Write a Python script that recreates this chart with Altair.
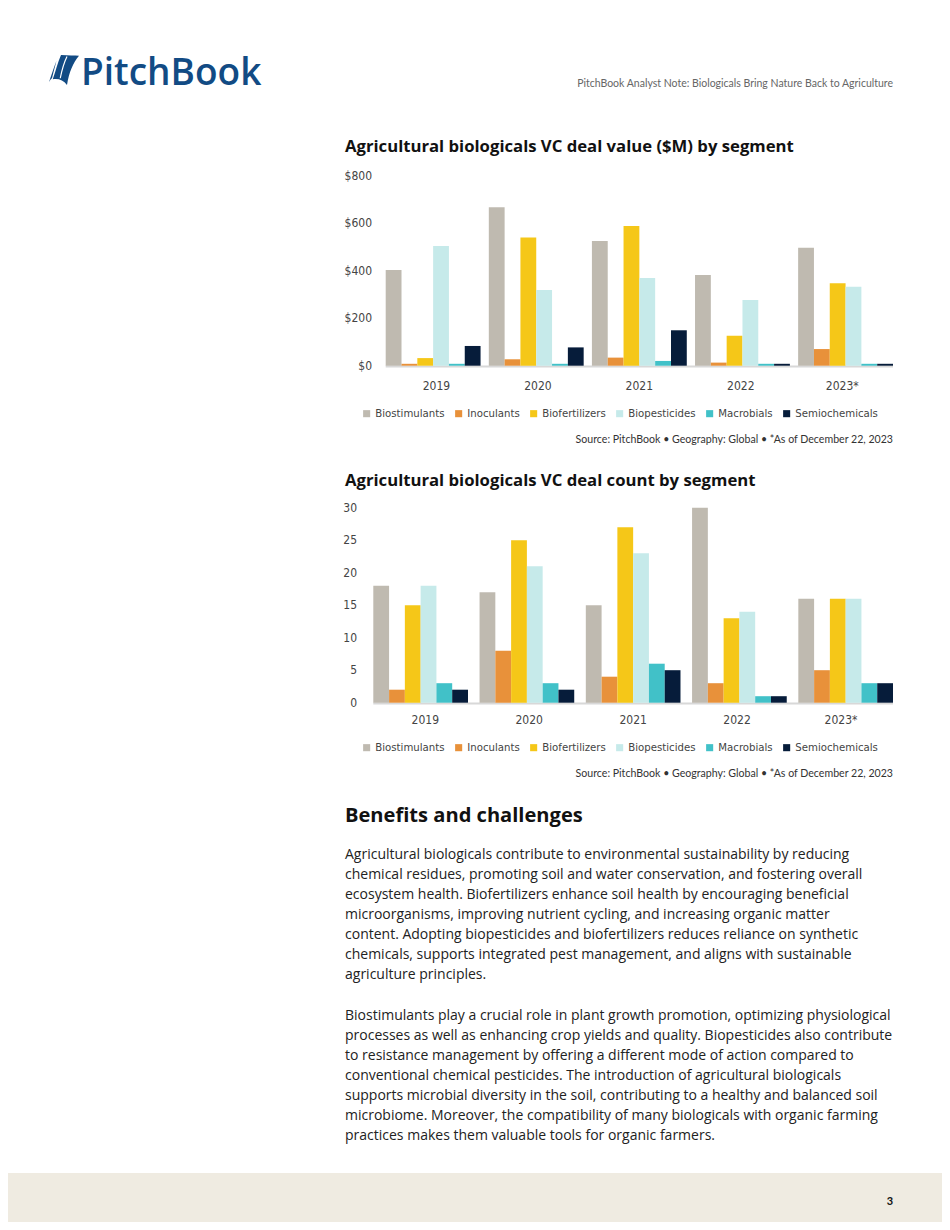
import altair as alt
import pandas as pd

# ---------------- data ----------------
years = ["2019", "2020", "2021", "2022", "2023"]
year_labels = ["2019", "2020", "2021", "2022", "2023*"]
segments = ["Biostimulants", "Inoculants", "Biofertilizers", "Biopesticides", "Macrobials", "Semiochemicals"]
colors = ["#bfbab0", "#e8913a", "#f5c718", "#c6eaea", "#41c1c8", "#061c3a"]

# deal value ($M)
value_biostimulants = [403, 666, 524, 381, 496]
value_inoculants = [8, 27, 34, 13, 70]
value_biofertilizers = [32, 539, 588, 126, 347]
value_biopesticides = [503, 318, 369, 276, 332]
value_macrobials = [8, 8, 20, 8, 8]
value_semiochemicals = [83, 77, 149, 8, 8]

# deal count
count_biostimulants = [18, 17, 15, 30, 16]
count_inoculants = [2, 8, 4, 3, 5]
count_biofertilizers = [15, 25, 27, 13, 16]
count_biopesticides = [18, 21, 23, 14, 16]
count_macrobials = [3, 3, 6, 1, 3]
count_semiochemicals = [2, 2, 5, 1, 3]

value_ticks = [0, 200, 400, 600, 800]
value_tick_labels = ["$0", "$200", "$400", "$600", "$800"]
count_ticks = [0, 5, 10, 15, 20, 25, 30]
count_tick_labels = ["0", "5", "10", "15", "20", "25", "30"]

title_value = "Agricultural biologicals VC deal value ($M) by segment"
title_count = "Agricultural biologicals VC deal count by segment"
source_text = "Source: PitchBook  \u2022  Geography: Global  \u2022  *As of December 22, 2023"
header_text = "PitchBook Analyst Note: Biologicals Bring Nature Back to Agriculture"
section_title = "Benefits and challenges"
paragraph_1 = [
    "Agricultural biologicals contribute to environmental sustainability by reducing",
    "chemical residues, promoting soil and water conservation, and fostering overall",
    "ecosystem health. Biofertilizers enhance soil health by encouraging beneficial",
    "microorganisms, improving nutrient cycling, and increasing organic matter",
    "content. Adopting biopesticides and biofertilizers reduces reliance on synthetic",
    "chemicals, supports integrated pest management, and aligns with sustainable",
    "agriculture principles.",
]
paragraph_2 = [
    "Biostimulants play a crucial role in plant growth promotion, optimizing physiological",
    "processes as well as enhancing crop yields and quality. Biopesticides also contribute",
    "to resistance management by offering a different mode of action compared to",
    "conventional chemical pesticides. The introduction of agricultural biologicals",
    "supports microbial diversity in the soil, contributing to a healthy and balanced soil",
    "microbiome. Moreover, the compatibility of many biologicals with organic farming",
    "practices makes them valuable tools for organic farmers.",
]

# ---------------- tables ----------------
value_series = [value_biostimulants, value_inoculants, value_biofertilizers,
                value_biopesticides, value_macrobials, value_semiochemicals]
count_series = [count_biostimulants, count_inoculants, count_biofertilizers,
                count_biopesticides, count_macrobials, count_semiochemicals]

def long_table(series):
    rows = []
    for seg, vals in zip(segments, series):
        for yr, v in zip(years, vals):
            rows.append({"year": yr, "segment": seg, "v": v})
    return pd.DataFrame(rows)

df_value = long_table(value_series)
df_count = long_table(count_series)
df_years = pd.DataFrame({"year": years, "label": year_labels})
df_vticks = pd.DataFrame({"t": value_ticks, "label": value_tick_labels})
df_cticks = pd.DataFrame({"t": count_ticks, "label": count_tick_labels})
dummy = pd.DataFrame({"k": [0]})

NARROW = "Liberation Sans Narrow, DejaVu Sans Condensed, Roboto, sans-serif"
SANS = "Lato, Open Sans, sans-serif"
OPEN = "Open Sans, Lato, sans-serif"

# ---------------- scales ----------------
x1 = alt.Scale(domain=years, range=[377.7, 885], paddingInner=0.08, paddingOuter=0)
y1 = alt.Scale(domain=[0, 800], range=[357.7, 167.5], nice=False)
x2 = alt.Scale(domain=years, range=[365.3, 885], paddingInner=0.109, paddingOuter=0)
y2 = alt.Scale(domain=[0, 30], range=[694.7, 499.7], nice=False)
color_scale = alt.Scale(domain=segments, range=colors)


def legend(ly):
    return alt.Legend(orient="none", legendX=353, legendY=ly, direction="horizontal",
                      columns=6, title=None, symbolType="square", symbolSize=50,
                      symbolStrokeWidth=0, labelFont=NARROW, labelFontSize=11.3,
                      labelColor="#444444", columnPadding=8, labelOffset=3,
                      padding=0, symbolOffset=0)


def bars(df, xs, ys, ly):
    return alt.Chart(df).mark_bar().encode(
        x=alt.X("year:N", scale=xs, axis=None),
        xOffset=alt.XOffset("segment:N", scale=alt.Scale(domain=segments, paddingInner=0, paddingOuter=0)),
        y=alt.Y("v:Q", scale=ys, axis=None),
        color=alt.Color("segment:N", scale=color_scale, legend=legend(ly)),
    )


def xlabels(xs, yv):
    return alt.Chart(df_years).mark_text(font=NARROW, fontSize=12, color="#444444",
                                         baseline="middle", align="center").encode(
        x=alt.X("year:N", scale=xs, axis=None), y=alt.value(yv), text="label:N")


def ylabels(df, ys, xv):
    return alt.Chart(df).mark_text(font=NARROW, fontSize=12, color="#444444",
                                   baseline="middle", align="right").encode(
        y=alt.Y("t:Q", scale=ys, axis=None), x=alt.value(xv), text="label:N")


def baseline_rule(xa, xb, yv):
    return alt.Chart(dummy).mark_rule(color="#d8d8d8", strokeWidth=2).encode(
        x=alt.value(xa), x2=alt.value(xb), y=alt.value(yv))


def txt(text, x, y, size, weight="normal", color="#222222", font=SANS,
        align="left", baseline="middle", line_height=None):
    kw = dict(font=font, fontSize=size, fontWeight=weight, color=color,
              align=align, baseline=baseline)
    if line_height is not None:
        kw["lineHeight"] = line_height
    return alt.Chart(dummy).mark_text(**kw).encode(
        x=alt.value(x), y=alt.value(y), text=alt.value(text))


# ---------------- decorations ----------------
footer = alt.Chart(dummy).mark_rect(color="#efebe1").encode(
    x=alt.value(0), x2=alt.value(934), y=alt.value(1165), y2=alt.value(1214))

sail_path = ("M -0.2,-1 C 0.3,-0.95 0.7,-0.98 1,-0.95 C 0.6,-0.45 0.35,0.1 0.2,1 "
             "C -0.05,0.65 -0.4,0.55 -0.75,0.62 C -0.55,0.05 -0.42,-0.5 -0.2,-1 Z "
             "M -0.5,-0.62 C -0.66,-0.2 -0.82,0.25 -1,0.8 C -0.92,0.66 -0.86,0.6 -0.8,0.55 "
             "C -0.68,0.05 -0.58,-0.3 -0.5,-0.62 Z")
sail_lines = "M 0.2,-0.9 C -0.02,-0.45 -0.15,0.05 -0.25,0.55"
logo_icon = alt.Chart(dummy).mark_point(shape=sail_path, filled=True, size=900,
                                        color="#124b84", opacity=1).encode(
    x=alt.value(56), y=alt.value(62))
logo_lines = alt.Chart(dummy).mark_point(shape=sail_lines, filled=False, size=900,
                                         color="white", strokeWidth=1.2, opacity=1).encode(
    x=alt.value(56), y=alt.value(62))
logo_text = txt("PitchBook", 73, 77, 37, weight=600, color="#124b84",
                font=OPEN, baseline="alphabetic")

layers = [
    footer,
    logo_icon, logo_lines, logo_text,
    txt(header_text, 885, 76, 10.5, color="#666666", align="right"),
    # chart 1
    txt(title_value, 337, 139, 16.7, weight="bold", color="#111111", font=OPEN),
    baseline_rule(377.7, 885, 358.5),
    bars(df_value, x1, y1, 400),
    xlabels(x1, 378),
    ylabels(df_vticks, y1, 364),
    txt(source_text, 885, 432, 10.6, color="#333333", align="right"),
    # chart 2
    txt(title_count, 337, 473, 16.7, weight="bold", color="#111111", font=OPEN),
    baseline_rule(365.3, 885, 695.5),
    bars(df_count, x2, y2, 734),
    xlabels(x2, 712),
    ylabels(df_cticks, y2, 349),
    txt(source_text, 885, 766, 10.6, color="#333333", align="right"),
    # text section
    txt(section_title, 337, 808, 20.1, weight="bold", color="#111111", font=OPEN),
    txt(paragraph_1, 337, 847, 14, color="#222222", font=OPEN, line_height=20),
    txt(paragraph_2, 337, 1008, 14, color="#222222", font=OPEN, line_height=20),
    txt("3", 882, 1194, 11, weight="bold", color="#111111", align="center"),
]

chart = alt.layer(*layers).resolve_scale(
    x="independent", y="independent", color="independent", xOffset="independent"
).resolve_legend(color="independent").properties(
    width=934, height=1214, autosize=alt.AutoSizeParams(type="none"), padding=0,
    background="white"
).configure_view(strokeWidth=0)

chart.save("out.html", embed_options={"renderer": "svg", "actions": False})
